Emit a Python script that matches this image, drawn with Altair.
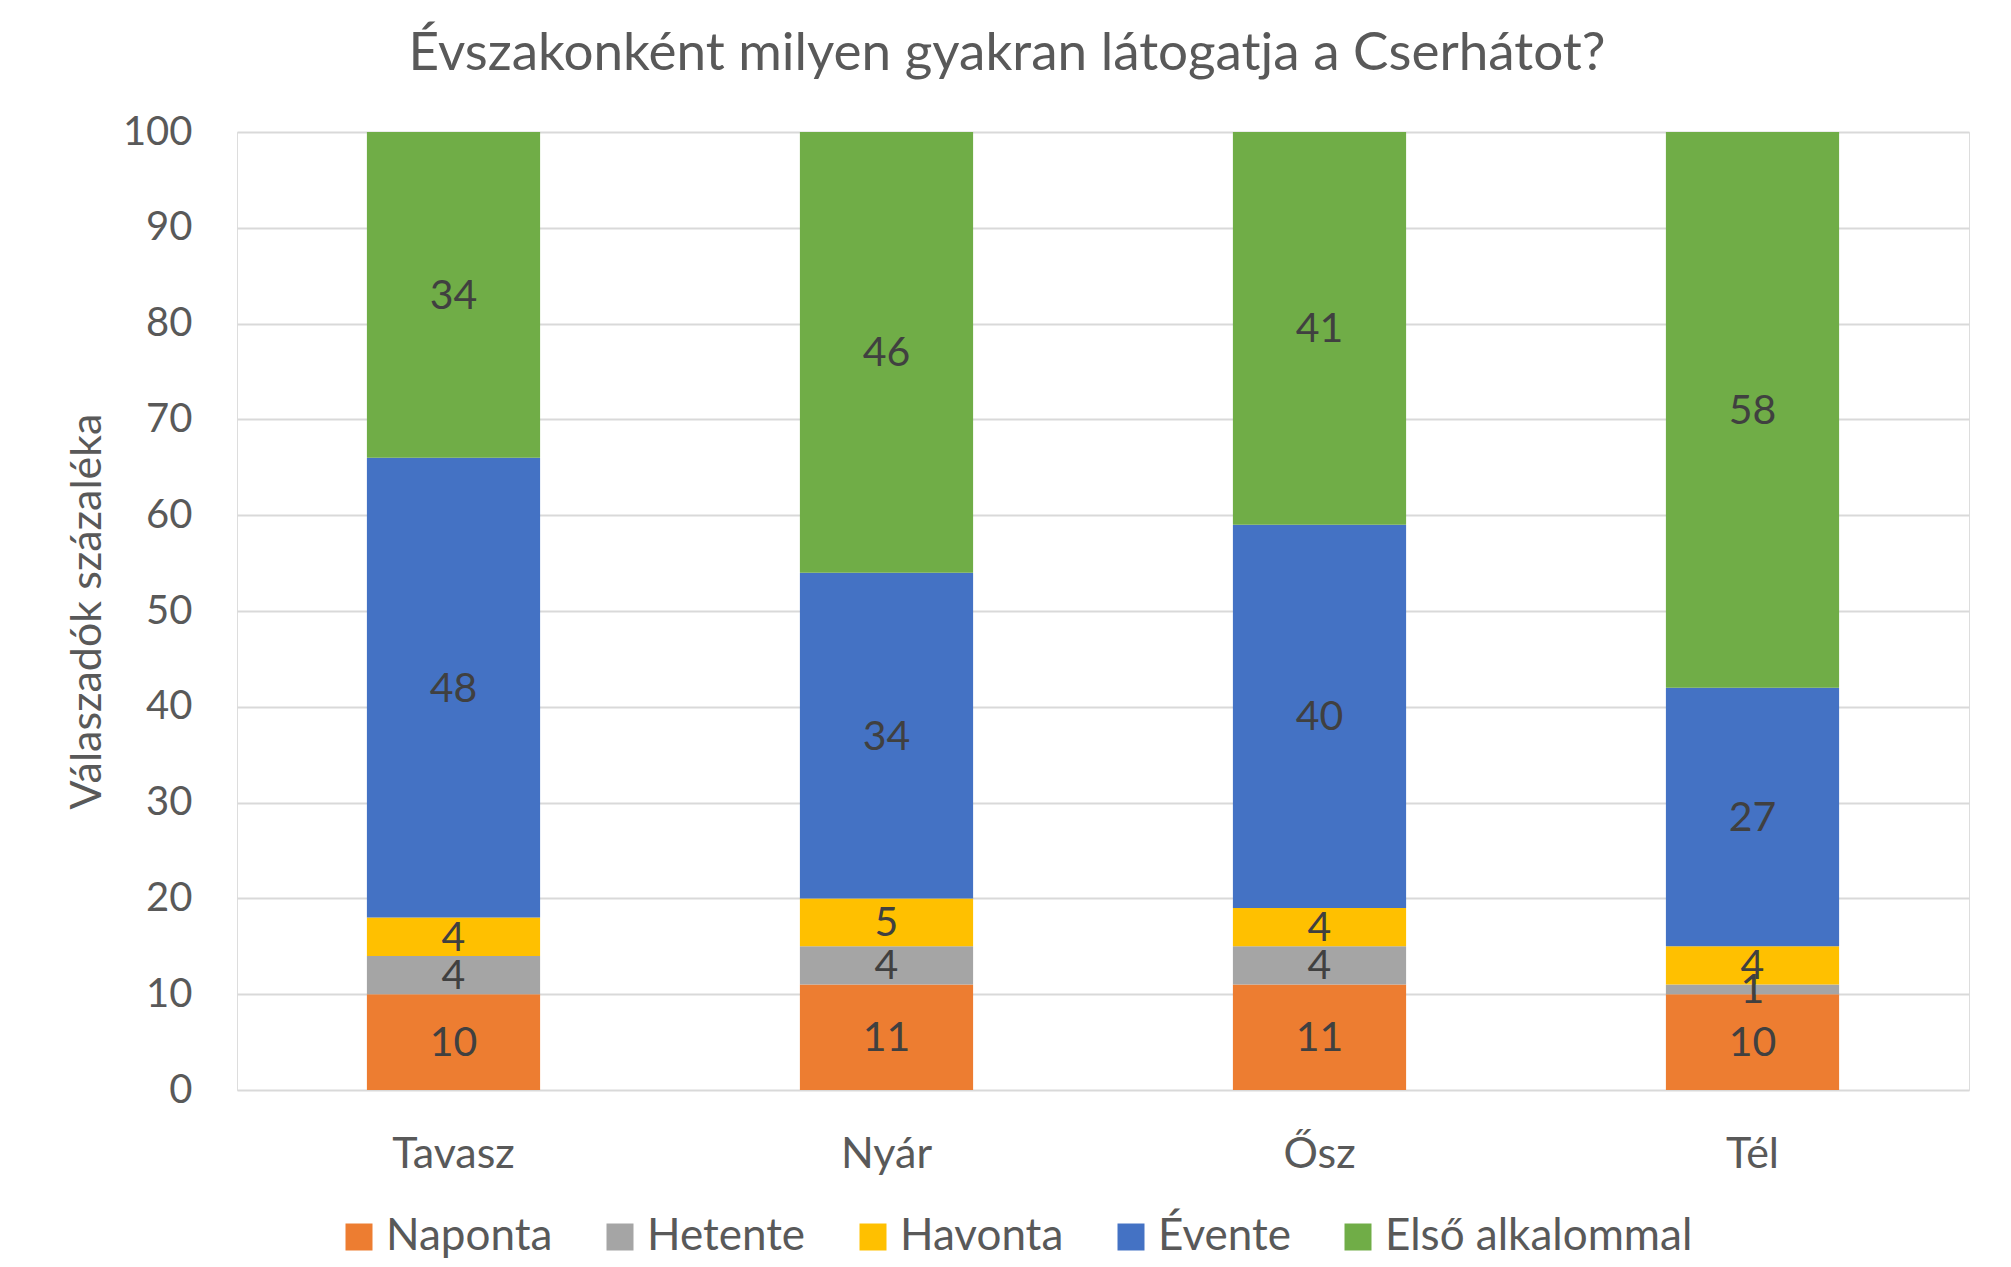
import altair as alt
import pandas as pd

seasons = ["Tavasz", "Nyár", "Ősz", "Tél"]
categories = ["Naponta", "Hetente", "Havonta", "Évente", "Első alkalommal"]
colors = ["#ED7D31", "#A5A5A5", "#FFC000", "#4472C4", "#70AD47"]
naponta = [10, 11, 11, 10]
hetente = [4, 4, 4, 1]
havonta = [4, 5, 4, 4]
evente = [48, 34, 40, 27]
elso = [34, 46, 41, 58]
y_ticks = list(range(0, 101, 10))

rows = []
for ci, (cat, vals) in enumerate(zip(categories, [naponta, hetente, havonta, evente, elso])):
    for s, v in zip(seasons, vals):
        rows.append({"season": s, "category": cat, "order": ci, "value": v})
df = pd.DataFrame(rows)

FONT = "Lato"
GRAY = "#595959"

base = alt.Chart(df).transform_stack(
    stack="value",
    groupby=["season"],
    sort=[alt.SortField("order", order="ascending")],
    as_=["y0", "y1"],
).transform_calculate(mid="(datum.y0 + datum.y1) / 2")

x_enc = alt.X(
    "season:N",
    sort=seasons,
    scale=alt.Scale(paddingInner=0.6, paddingOuter=0.3),
    axis=alt.Axis(
        title=None, labelAngle=0, labelFontSize=43, labelFont=FONT,
        labelColor=GRAY, labelPadding=43, ticks=False, domain=False, grid=False,
    ),
)

y_axis = alt.Axis(
    values=y_ticks, title="Válaszadók százaléka",
    labelFontSize=40, labelFont=FONT, labelColor=GRAY, labelPadding=45,
    ticks=False, domain=False, grid=True, gridColor="#D9D9D9", gridWidth=2,
    titleFontSize=43, titleFont=FONT, titleColor=GRAY, titleFontWeight="normal",
    titleX=-150, titleY=479, titleAlign="center", titleBaseline="middle", titleAngle=270,
)
y_scale = alt.Scale(domain=[0, 100], nice=False)

bars = base.mark_bar().encode(
    x=x_enc,
    y=alt.Y("y0:Q", scale=y_scale, axis=y_axis),
    y2="y1:Q",
    color=alt.Color(
        "category:N",
        sort=categories,
        scale=alt.Scale(domain=categories, range=colors),
        legend=alt.Legend(
            title=None, orient="none", legendX=100, legendY=1083,
            direction="horizontal", symbolType="square", symbolSize=729,
            symbolStrokeWidth=0, labelFontSize=44, labelFont=FONT,
            labelColor=GRAY, labelOffset=5, columnPadding=45, labelLimit=600,
        ),
    ),
)

labels = base.mark_text(font=FONT, fontSize=41, color="#404040", baseline="middle", dy=2).encode(
    x=x_enc,
    y=alt.Y("mid:Q", scale=y_scale, axis=y_axis),
    text="value:Q",
)

chart = alt.layer(bars, labels).properties(
    width=1732,
    height=958,
    autosize="none",
    padding={"left": 229, "top": 124, "right": 34, "bottom": 168},
    title=alt.TitleParams(
        "Évszakonként milyen gyakran látogatja a Cserhátot?",
        font=FONT, fontSize=53, fontWeight="normal", color=GRAY,
        anchor="middle", dx=-96, dy=51, offset=40, baseline="alphabetic",
    ),
).configure_view(stroke=None).configure(background="white")

chart.save("out.html", embed_options={"renderer": "svg", "actions": False})
